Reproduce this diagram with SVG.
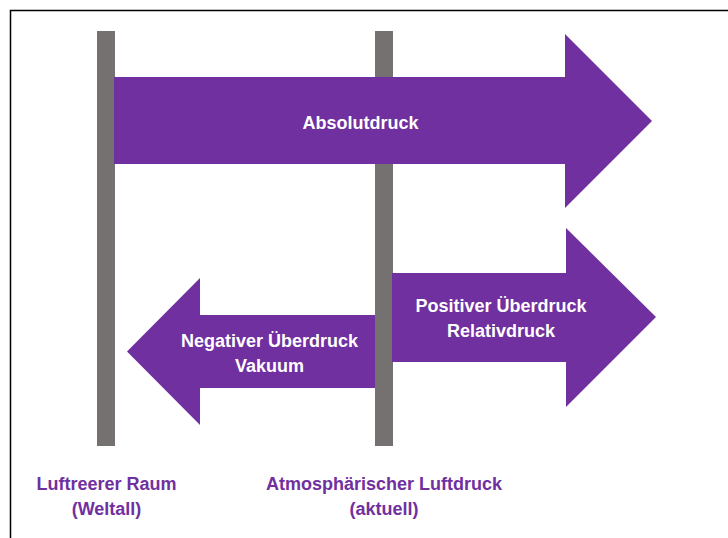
<svg xmlns="http://www.w3.org/2000/svg" width="728" height="538" viewBox="0 0 728 538">
<style>
.bar{fill:#767171}
.arrow{fill:#7030A0}
.lbl{font-family:"Liberation Sans",Arial,sans-serif;font-weight:bold;font-size:18px;text-anchor:middle}
.in{fill:#ffffff}
.out{fill:#7030A0}
.frame{stroke:#000;stroke-width:1.5;fill:none}
</style>
<rect width="728" height="538" fill="#ffffff"/>
<path class="frame" d="M10.5 538 V10.5 H728"/>
<g id="bar-vacuum"><rect class="bar" x="97" y="31" width="18" height="415"/></g>
<g id="bar-atmosphere"><rect class="bar" x="375" y="31" width="18" height="415"/></g>
<g id="connectors">
<g id="arrow-absolut"><polygon class="arrow" points="114,77 565,77 565,34 652,121 565,208 565,164 114,164"/>
<text class="lbl in" x="360.5" y="128.5">Absolutdruck</text></g>
<g id="arrow-positive"><polygon class="arrow" points="392,273 566,273 566,228 656,317 566,407 566,362 392,362"/>
<text class="lbl in" x="501" y="312">Positiver Überdruck</text>
<text class="lbl in" x="501" y="336.5">Relativdruck</text></g>
<g id="arrow-negative"><polygon class="arrow" points="375,315 200,315 200,278 127,351.5 200,425 200,388 375,388"/>
<text class="lbl in" x="269.5" y="347">Negativer Überdruck</text>
<text class="lbl in" x="269.5" y="371.5">Vakuum</text></g>
</g>
<g id="label-vacuum">
<text class="lbl out" x="106.5" y="490">Luftreerer Raum</text>
<text class="lbl out" x="106.5" y="515">(Weltall)</text>
</g>
<g id="label-atmosphere">
<text class="lbl out" x="384" y="489.5">Atmosphärischer Luftdruck</text>
<text class="lbl out" x="384" y="515">(aktuell)</text>
</g>
</svg>
